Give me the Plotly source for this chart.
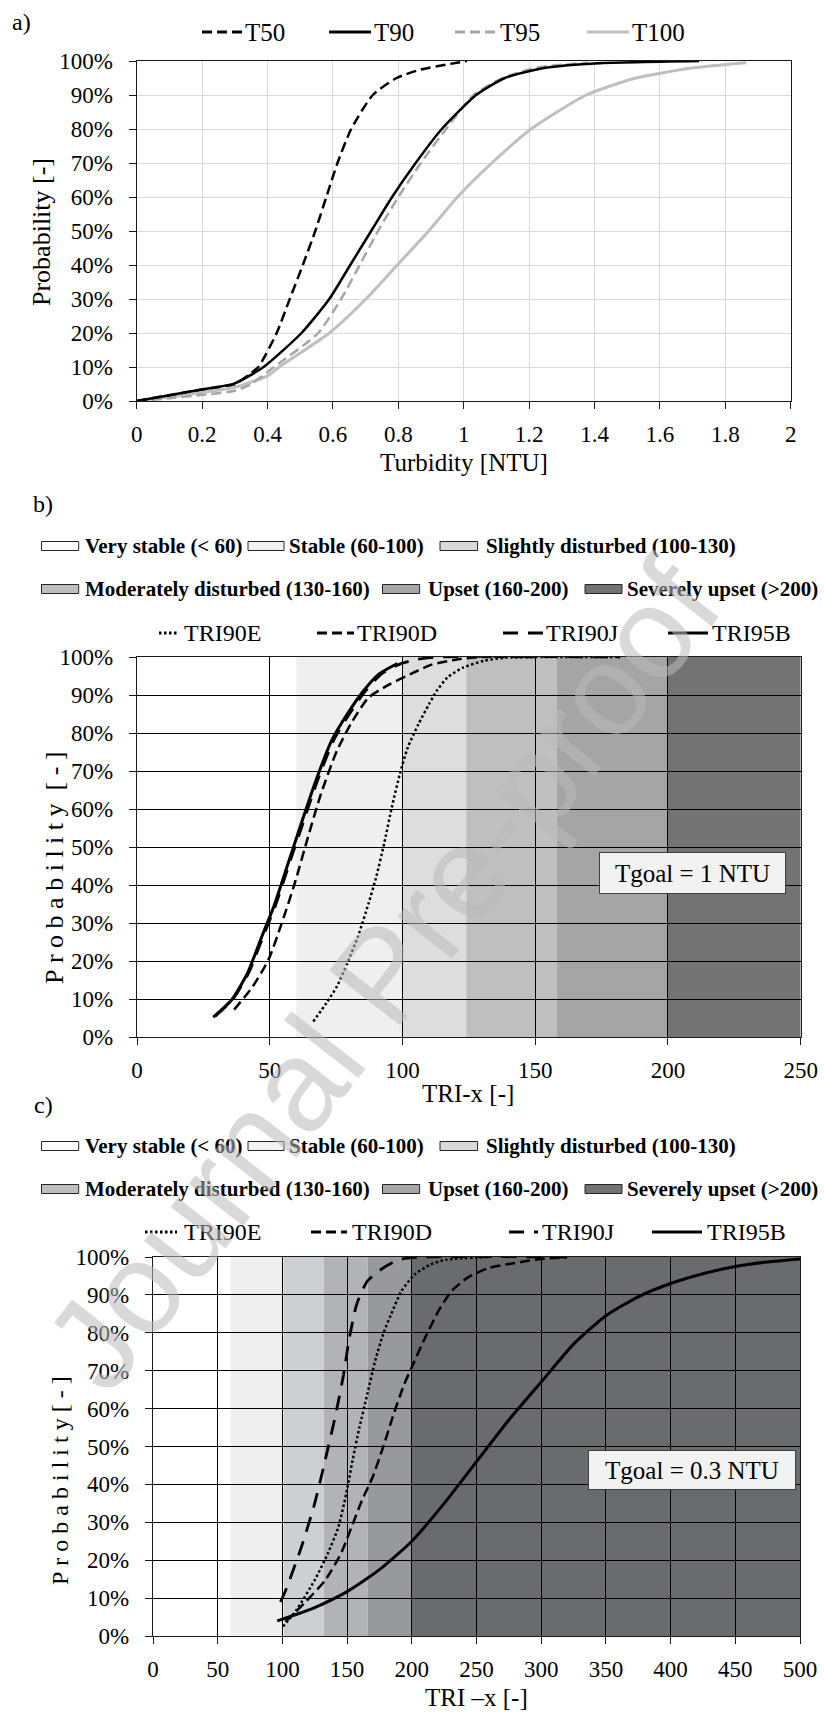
import plotly.graph_objects as go

W, H = 824, 1713
def px(x): return x / W
def py(y): return 1 - y / H

SERIF = "Liberation Serif, serif"

# ---------------- Panel a data (Turbidity CDFs) ----------------
a_T50_x = [0, 0.1, 0.2, 0.3, 0.34, 0.372, 0.428, 0.468, 0.508, 0.546, 0.58, 0.614, 0.656, 0.722, 0.795, 0.869, 0.95, 1.01]
a_T50_y = [0, 0.017, 0.034, 0.05, 0.075, 0.10, 0.20, 0.30, 0.40, 0.50, 0.60, 0.70, 0.80, 0.90, 0.95, 0.975, 0.99, 1.0]
a_T90_x = [0, 0.1, 0.2, 0.3, 0.388, 0.504, 0.589, 0.653, 0.717, 0.781, 0.853, 0.933, 1.038, 1.126, 1.25, 1.4, 1.72]
a_T90_y = [0, 0.017, 0.034, 0.052, 0.10, 0.20, 0.30, 0.40, 0.50, 0.60, 0.70, 0.80, 0.90, 0.95, 0.98, 0.993, 1.0]
a_T95_x = [0, 0.1, 0.2, 0.3, 0.35, 0.42, 0.555, 0.625, 0.682, 0.738, 0.80, 0.869, 0.946, 1.03, 1.12, 1.22, 1.38]
a_T95_y = [0, 0.008, 0.018, 0.03, 0.05, 0.10, 0.20, 0.30, 0.40, 0.50, 0.60, 0.70, 0.80, 0.90, 0.95, 0.98, 0.995]
a_T100_x = [0, 0.1, 0.2, 0.3, 0.4, 0.436, 0.589, 0.701, 0.797, 0.893, 0.981, 1.086, 1.206, 1.375, 1.527, 1.703, 1.864]
a_T100_y = [0, 0.012, 0.025, 0.04, 0.074, 0.10, 0.20, 0.30, 0.40, 0.50, 0.60, 0.70, 0.80, 0.90, 0.95, 0.98, 0.995]
a_xticks = [0, 0.2, 0.4, 0.6, 0.8, 1, 1.2, 1.4, 1.6, 1.8, 2]

# ---------------- Panel b data (Tgoal = 1 NTU) ----------------
b_E_x = [66.4, 71.3, 75.3, 79.2, 83.2, 87.2, 90.1, 93.1, 96, 99, 102, 106, 110, 112.9, 116.9, 122.8, 130.7, 138.7, 182]
b_E_y = [0.041, 0.089, 0.133, 0.194, 0.264, 0.351, 0.421, 0.509, 0.605, 0.692, 0.762, 0.823, 0.876, 0.911, 0.946, 0.972, 0.99, 0.998, 1.0]
b_D_x = [36.6, 43.6, 49.5, 54.5, 59.4, 64.4, 69.3, 75.3, 81.2, 87.2, 95.1, 103, 111, 121, 130, 150]
b_D_y = [0.072, 0.133, 0.203, 0.299, 0.404, 0.526, 0.64, 0.753, 0.832, 0.893, 0.928, 0.955, 0.98, 0.994, 1.0, 1.0]
b_J_x = [29.5, 36, 42, 48, 52, 57, 62, 68, 74, 80, 86, 92, 98.6, 105, 113, 182]
b_J_y = [0.055, 0.098, 0.168, 0.273, 0.343, 0.448, 0.552, 0.675, 0.78, 0.85, 0.91, 0.955, 0.98, 0.993, 1.0, 1.0]
b_B_x = [28.7, 35.7, 41.6, 47.5, 51.5, 56.5, 61.4, 67.4, 73.3, 79.2, 85.2, 91.1, 98.1]
b_B_y = [0.052, 0.098, 0.168, 0.273, 0.343, 0.448, 0.552, 0.675, 0.78, 0.85, 0.91, 0.955, 0.983]
b_band_edges = [0, 60, 100, 124, 158, 200, 250]
b_band_colors = ["#FFFFFF", "#EFEFEF", "#DDDDDD", "#BFBFBF", "#A5A5A5", "#737373"]

# ---------------- Panel c data (Tgoal = 0.3 NTU) ----------------
c_E_x = [100.5, 110.7, 124.9, 135, 143.2, 149.3, 154.2, 159.5, 165.6, 171.7, 177.8, 183.9, 192, 202.2, 214.4, 226.6, 260]
c_E_y = [0.025, 0.068, 0.147, 0.217, 0.287, 0.375, 0.463, 0.55, 0.638, 0.726, 0.796, 0.848, 0.91, 0.954, 0.98, 0.993, 1.0]
c_D_x = [102.5, 116.8, 133, 145.2, 153.4, 161.5, 169.7, 177.8, 185.9, 194.1, 202.2, 210.3, 220.5, 230.7, 242.9, 259.2, 279.5, 300, 320]
c_D_y = [0.038, 0.086, 0.147, 0.217, 0.287, 0.358, 0.419, 0.498, 0.585, 0.664, 0.726, 0.787, 0.857, 0.91, 0.945, 0.971, 0.984, 0.995, 0.999]
c_J_x = [98.5, 102.5, 114.7, 124.9, 133, 141.2, 147.3, 151.3, 157.4, 165.6, 177.8, 190, 210, 320]
c_J_y = [0.09, 0.12, 0.235, 0.349, 0.463, 0.585, 0.69, 0.778, 0.875, 0.936, 0.971, 0.993, 1.0, 1.0]
c_B_x = [96, 110, 125, 150, 175, 200, 225, 250, 275, 300, 325, 350, 375, 400, 425, 450, 475, 500]
c_B_y = [0.04, 0.056, 0.075, 0.117, 0.175, 0.25, 0.35, 0.46, 0.57, 0.67, 0.77, 0.845, 0.895, 0.93, 0.956, 0.975, 0.987, 0.995]
c_band_edges = [0, 60, 101, 132, 166, 200, 500]
c_band_colors = ["#FFFFFF", "#EFEFEF", "#CDD0D3", "#B1B3B6", "#98999C", "#6A6B6D"]

zone_names = ["Very stable (&lt; 60)", "Stable (60-100)", "Slightly disturbed (100-130)",
              "Moderately disturbed (130-160)", "Upset (160-200)", "Severely upset (&gt;200)"]
zone_colors = ["#FFFFFF", "#F2F2F2", "#D9D9D9", "#BFBFBF", "#A6A6A6", "#737373"]
tri_names = ["TRI90E", "TRI90D", "TRI90J", "TRI95B"]
t_names = ["T50", "T90", "T95", "T100"]

fig = go.Figure()

def add_line(x, y, xa, ya, color, width, dash):
    fig.add_trace(go.Scatter(x=x, y=y, mode="lines", xaxis=xa, yaxis=ya, showlegend=False,
                             line=dict(color=color, width=width, dash=dash, shape="spline", smoothing=0.6),
                             hoverinfo="skip"))

# panel a
a_styles = [("black", 2.5, "10px,5px"), ("black", 2.5, "solid"), ("#A6A6A6", 2.5, "10px,5px"), ("#BFBFBF", 3, "solid")]
for (xs, ys), st in zip([(a_T100_x, a_T100_y), (a_T95_x, a_T95_y), (a_T90_x, a_T90_y), (a_T50_x, a_T50_y)],
                        [a_styles[3], a_styles[2], a_styles[1], a_styles[0]]):
    add_line(xs, ys, "x", "y", *st)

tri_styles = [("black", 2.5, "2.5px,2.5px"), ("black", 2.5, "10px,5px"), ("black", 2.8, "15px,10px"), ("black", 3, "solid")]
for (xs, ys), st in zip([(b_E_x, b_E_y), (b_D_x, b_D_y), (b_J_x, b_J_y), (b_B_x, b_B_y)], tri_styles):
    add_line(xs, ys, "x2", "y2", *st)
for (xs, ys), st in zip([(c_E_x, c_E_y), (c_D_x, c_D_y), (c_J_x, c_J_y), (c_B_x, c_B_y)], tri_styles):
    add_line(xs, ys, "x3", "y3", *st)

shapes = []
annotations = []

# background bands
for edges, cols, xr, yr in [(b_band_edges, b_band_colors, "x2", "y2"), (c_band_edges, c_band_colors, "x3", "y3")]:
    for i, col in enumerate(cols):
        shapes.append(dict(type="rect", xref=xr, yref=yr, x0=edges[i], x1=edges[i + 1], y0=0, y1=1,
                           fillcolor=col, line=dict(width=0), layer="below"))

def txt(x, y, s, size=21, bold=False, anchor="left", angle=0, family=SERIF, color="black"):
    annotations.append(dict(x=px(x), y=py(y), xref="paper", yref="paper", text=s, showarrow=False,
                            xanchor=anchor, yanchor="middle", textangle=angle,
                            font=dict(family=family, size=size, color=color, weight="bold" if bold else "normal")))

def legline(x0, x1, y, dash, width=3, color="black"):
    shapes.append(dict(type="line", xref="paper", yref="paper", x0=px(x0), x1=px(x1), y0=py(y), y1=py(y),
                       line=dict(color=color, width=width, dash=dash)))

def legbox(x0, x1, y, col):
    shapes.append(dict(type="rect", xref="paper", yref="paper", x0=px(x0), x1=px(x1), y0=py(y + 4.5), y1=py(y - 4.5),
                       fillcolor=col, line=dict(color="#262626", width=1)))

# panel labels
txt(10, 22, "a)", 24)
txt(31, 504, "b)", 24)
txt(32, 1105, "c)", 24)

# panel a legend
a_leg = [(202, 242), (329, 371), (455, 497), (587, 629)]
for (x0, x1), nm, st in zip(a_leg, t_names, a_styles):
    legline(x0, x1, 32, st[2], width=3, color=st[0])
    txt(x1 + 1, 32, nm, 25)

# zone legends (b and c)
row1 = [(41.5, 78.7, 83), (248, 284, 287), (440, 477.6, 484)]
row2 = [(41.5, 78.7, 83), (382.5, 419.6, 426), (585, 622, 625)]
for y1, y2 in [(546, 589), (1146, 1189)]:
    for k, (x0, x1, xt) in enumerate(row1):
        legbox(x0, x1, y1, zone_colors[k])
        txt(xt, y1, zone_names[k], 21, bold=True)
    for k, (x0, x1, xt) in enumerate(row2):
        legbox(x0, x1, y2, zone_colors[k + 3])
        txt(xt, y2, zone_names[k + 3], 21, bold=True)

# TRI line legends
tri_leg_b = [(159, 178, 182), (317, 354, 355), (503, 543, 544), (668, 708, 710)]
tri_leg_c = [(145, 177, 182), (311, 347, 350), (509, 538, 540), (652, 702, 705)]
for leg, yy in [(tri_leg_b, 633), (tri_leg_c, 1232)]:
    for (x0, x1, xt), nm, st in zip(leg, tri_names, tri_styles):
        legline(x0, x1, yy, st[2], width=3)
        txt(xt, yy, nm, 24)

# axis titles
NB = "\u00a0"
txt(463.7, 462, "Turbidity [NTU]", 25, anchor="center")
txt(468, 1093, "TRI-x [-]", 25, anchor="center")
txt(476, 1697, "TRI \u2013x [-]", 25, anchor="center")
txt(42, 232, "Probability [-]", 26, anchor="center", angle=-90)
txt(54, 868, NB.join(list("Probability")) + NB + NB + NB.join(list("[-]")), 26, anchor="center", angle=-90)
txt(60, 1480, NB.join(list("Probability[-]")), 24, anchor="center", angle=-90)

# Tgoal boxes
for (x0, x1, y0, y1, s) in [(599, 786, 852, 894, "Tgoal = 1 NTU"), (588, 796, 1450, 1490, "Tgoal = 0.3 NTU")]:
    annotations.append(dict(x=px((x0 + x1) / 2), y=py((y0 + y1) / 2), xref="paper", yref="paper", text=s,
                            showarrow=False, xanchor="center", yanchor="middle", width=x1 - x0 - 4,
                            height=y1 - y0 - 4, bgcolor="#F2F2F2", bordercolor="#404040", borderwidth=1,
                            borderpad=1, font=dict(family=SERIF, size=25, color="black")))

# watermark
annotations.append(dict(x=px(382), y=py(975), xref="paper", yref="paper", text="Journal Pre-proof",
                        showarrow=False, xanchor="center", yanchor="middle", textangle=-52,
                        font=dict(family="Liberation Sans, sans-serif", size=130, color="rgba(185,185,185,0.55)")))

tickfont = dict(family=SERIF, size=23, color="black")

def xax(domain, rng, dtick, anchor, gridcolor, tickvals=None):
    d = dict(domain=domain, range=rng, dtick=dtick, anchor=anchor, showgrid=True, gridcolor=gridcolor,
             gridwidth=1, showline=True, linecolor="#1A1A1A", linewidth=1.3, mirror=True, ticks="outside",
             ticklen=7, tickcolor="#1A1A1A", tickfont=tickfont, zeroline=False, ticklabelstandoff=5, fixedrange=True)
    if tickvals is not None:
        d.update(tickmode="array", tickvals=tickvals, ticktext=[f"{v:g}" for v in tickvals])
    return d

def yax(domain, anchor, gridcolor):
    return dict(domain=domain, range=[0, 1], dtick=0.1, tickformat=".0%", anchor=anchor, showgrid=True,
                gridcolor=gridcolor, gridwidth=1, showline=True, linecolor="#1A1A1A", linewidth=1.3, mirror=True,
                ticks="outside", ticklen=7, tickcolor="#1A1A1A", tickfont=tickfont, zeroline=False,
                ticklabelstandoff=11, fixedrange=True)

fig.update_layout(
    width=W, height=H, margin=dict(l=0, r=0, t=0, b=0, autoexpand=False), paper_bgcolor="white",
    plot_bgcolor="white", showlegend=False, font=dict(family=SERIF, color="black"),
    xaxis=xax([px(136.7), px(790.7)], [0, 2], 0.2, "y", "#D9D9D9", a_xticks),
    yaxis=yax([py(401), py(61)], "x", "#D9D9D9"),
    xaxis2=xax([px(137), px(800.7)], [0, 250], 50, "y2", "black"),
    yaxis2=yax([py(1037), py(657)], "x2", "black"),
    xaxis3=xax([px(153), px(800)], [0, 500], 50, "y3", "black"),
    yaxis3=yax([py(1636), py(1257)], "x3", "black"),
    shapes=shapes, annotations=annotations,
)

fig.write_html("out.html",
               post_script="document.body.style.margin='0';document.body.style.padding='0';"
                           "document.documentElement.style.overflow='hidden';")
